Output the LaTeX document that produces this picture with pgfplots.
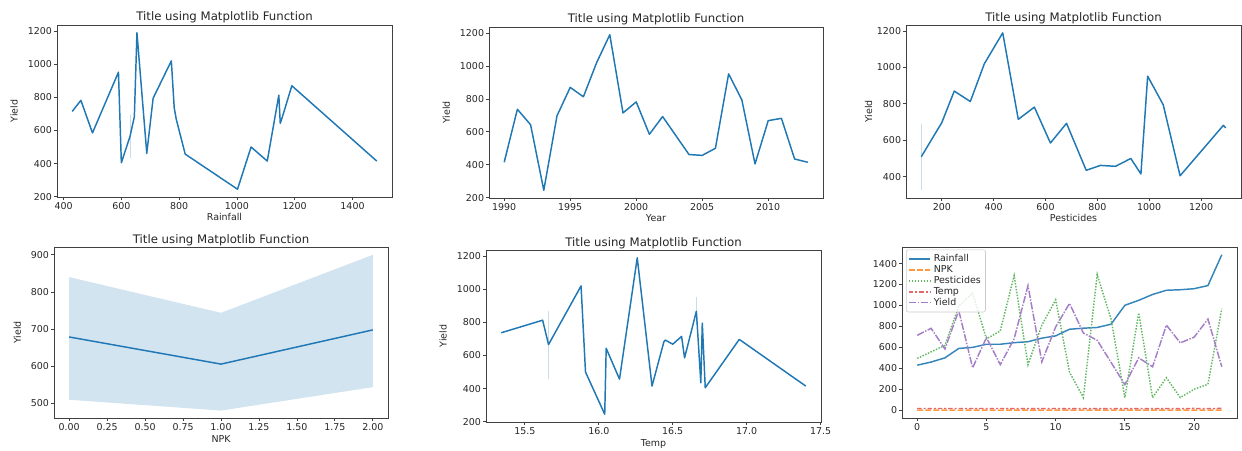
\documentclass[border=0pt]{standalone}
\usepackage{fontspec}
\setmainfont{DejaVu Sans}
\usepackage{pgfplots}
\pgfplotsset{compat=1.18}
\usepackage{pgfplotstable}

\definecolor{c0}{HTML}{1F77B4}
\definecolor{c1}{HTML}{FF7F0E}
\definecolor{c2}{HTML}{2CA02C}
\definecolor{c3}{HTML}{D62728}
\definecolor{c4}{HTML}{9467BD}
\definecolor{txt}{HTML}{262626}
\definecolor{spine}{HTML}{404040}

\pgfplotstableread{
Rainfall Yield
430 715
460 782
500 585
590 952
600 405
630 564
645 682
654 1190
688 462
710 795
773 1020
783 737
790 668
821 457
1002 245
1049 500
1105 415
1145 813
1150 643
1160 697
1190 870
1484 415
}\rainfalltab

\pgfplotstableread{
Year Yield
1990 415
1991 737
1992 643
1993 245
1994 697
1995 870
1996 813
1997 1020
1998 1190
1999 715
2000 782
2001 585
2002 693
2004 462
2005 457
2006 500
2007 952
2008 795
2009 405
2010 668
2011 682
2012 435
2013 415
}\yeartab

\pgfplotstableread{
Pesticides Yield
121 510
200 697
248 870
310 813
364 1020
435 1190
495 715
557 782
619 585
681 693
757 435
812 462
870 457
929 500
968 415
994 952
1054 795
1119 405
1286 682
1295 668
}\pesttab

\pgfplotstableread{
Temp Yield
15.34 737
15.62 813
15.66 666
15.88 1020
15.91 500
16.04 245
16.05 643
16.14 457
16.26 1190
16.36 415
16.44 682
16.45 693
16.50 668
16.56 715
16.58 585
16.66 867
16.69 435
16.70 795
16.72 405
16.95 697
17.40 415
}\temptab

\pgfplotstableread{
idx Rainfall NPK Pesticides Temp Yield
0 430 0 495 16.56 715
1 460 1 557 16.66 782
2 500 2 619 16.58 585
3 590 0 994 16.66 952
4 600 1 1119 16.72 405
5 630 2 681 16.45 693
6 630 0 757 16.69 435
7 645 1 1286 16.44 682
8 654 2 435 16.26 1190
9 688 0 812 15.66 462
10 710 1 1054 16.70 795
11 773 2 364 15.88 1020
12 783 0 121 15.34 737
13 790 1 1295 16.50 668
14 821 2 870 16.14 457
15 1002 0 121 16.04 245
16 1049 1 929 15.91 500
17 1105 2 121 16.36 415
18 1145 0 310 15.62 813
19 1150 1 121 16.05 643
20 1160 2 200 16.95 697
21 1190 0 248 15.66 870
22 1484 1 968 17.40 415
}\croptab

\newcommand{\lblfont}{\fontsize{7.1}{8.5}\selectfont}
\pgfplotsset{
  mpl/.style={
    scale only axis,
    anchor=south west,
    tick align=outside,
    tick pos=left,
    major tick length=2.2pt,
    every tick/.style={spine, line width=0.6pt},
    axis line style={spine, line width=0.6pt},
    tick label style={font=\lblfont, text=txt},
    xticklabel style={yshift=1.6pt},
    yticklabel style={xshift=2pt},
    every axis title/.style={at={(0.5,1)}, anchor=base, yshift=3pt, font=\fontsize{8.8}{10}\selectfont, text=txt},
    every axis x label/.style={at={(axis description cs:0.5,0)}, anchor=base, yshift=-18pt, font=\lblfont, text=txt},
    every axis y label/.style={at={(axis description cs:-0.128,0.5)}, rotate=90, anchor=center, font=\lblfont, text=txt},
    /pgf/number format/1000 sep={},
    /pgf/number format/assume math mode=true,
    scaled ticks=false,
  },
  mline/.style={c0, line width=1.1pt, line join=round},
  ciline/.style={c0!25, line width=0.6pt},
}

\begin{document}
\begin{tikzpicture}
\useasboundingbox (0,0) rectangle (931.5pt,337.5pt);

% Panel 1
\begin{axis}[mpl, at={(42.75pt,189.75pt)}, width=251.25pt, height=129pt,
  title={Title using Matplotlib Function}, xlabel={Rainfall}, ylabel={Yield},
  xmin=377.3, xmax=1536.7, ymin=198, ymax=1237,
  xtick={400,600,...,1400}, ytick={200,400,...,1200}]
\addplot[ciline] coordinates {(630,435) (630,693)};
\addplot[mline] table[x=Rainfall,y=Yield] {\rainfalltab};
\end{axis}

% Panel 2
\begin{axis}[mpl, at={(366.75pt,189pt)}, width=250.5pt, height=128.25pt,
  title={Title using Matplotlib Function}, xlabel={Year}, ylabel={Yield},
  xmin=1988.85, xmax=2014.15, ymin=198, ymax=1237,
  xtick={1990,1995,...,2010}, ytick={200,400,...,1200}]
\addplot[mline] table[x=Year,y=Yield] {\yeartab};
\end{axis}

% Panel 3
\begin{axis}[mpl, at={(679.5pt,189pt)}, width=251.25pt, height=129.75pt,
  title={Title using Matplotlib Function}, xlabel={Pesticides}, ylabel={Yield},
  every axis y label/.append style={at={(axis description cs:-0.112,0.5)}},
  xmin=62, xmax=1354, ymin=283, ymax=1233,
  xtick={200,400,...,1200}, ytick={400,600,...,1200}]
\addplot[ciline] coordinates {(121,326) (121,690)};
\addplot[mline] table[x=Pesticides,y=Yield] {\pesttab};
\end{axis}

% Panel 4
\begin{axis}[mpl, at={(40.5pt,24pt)}, width=250.5pt, height=128.25pt,
  title={Title using Matplotlib Function}, xlabel={NPK}, ylabel={Yield},
  every axis y label/.append style={at={(axis description cs:-0.11,0.5)}},
  xmin=-0.1, xmax=2.1, ymin=461, ymax=921,
  xtick={0,0.25,...,2}, ytick={500,600,...,900},
  xticklabel style={/pgf/number format/.cd, fixed, fixed zerofill, precision=2}]
\addplot[fill=c0, fill opacity=0.2, draw=none] coordinates {(0,510) (1,481) (2,544) (2,900) (1,744) (0,840)} -- cycle;
\addplot[mline] coordinates {(0,679) (1,606) (2,698)};
\end{axis}

% Panel 5
\begin{axis}[mpl, at={(364.5pt,21pt)}, width=251.25pt, height=129pt,
  title={Title using Matplotlib Function}, xlabel={Temp}, ylabel={Yield},
  xmin=15.237, xmax=17.503, ymin=198, ymax=1237,
  xtick={15.5,16,16.5,17,17.5}, ytick={200,400,...,1200},
  xticklabel style={/pgf/number format/.cd, fixed, fixed zerofill, precision=1}]
\addplot[ciline] coordinates {(15.66,455) (15.66,870)};
\addplot[ciline] coordinates {(16.66,790) (16.66,952)};
\addplot[mline] table[x=Temp,y=Yield] {\temptab};
\end{axis}

% Panel 6
\begin{axis}[mpl, at={(676.5pt,24pt)}, width=251.25pt, height=128.25pt,
  xmin=-1.1, xmax=23.1, ymin=-74, ymax=1558,
  xtick={0,5,...,20}, ytick={0,200,...,1400},
  legend style={at={(axis description cs:0.012,0.985)}, anchor=north west,
    draw=black!20, rounded corners=1.5pt, fill=white, fill opacity=0.8, text opacity=1,
    font=\lblfont, text=txt, inner sep=1.5pt, row sep=-2.6pt},
  legend cell align=left,
  legend image code/.code={\draw[#1] (0pt,0pt) -- (16pt,0pt);}]
\addplot[c0!90, line width=1.1pt] table[x=idx,y=Rainfall] {\croptab};
\addlegendentry{Rainfall}
\addplot[c1!80, line width=1.1pt, dash pattern=on 4.4pt off 1.65pt] table[x=idx,y=NPK] {\croptab};
\addlegendentry{NPK}
\addplot[c2!75, line width=1.1pt, dash pattern=on 1.1pt off 1.1pt] table[x=idx,y=Pesticides] {\croptab};
\addlegendentry{Pesticides}
\addplot[c3!70, line width=1.1pt, dash pattern=on 3.3pt off 1.4pt on 1.65pt off 1.4pt] table[x=idx,y=Temp] {\croptab};
\addlegendentry{Temp}
\addplot[c4!85, line width=1.1pt, dash pattern=on 5.5pt off 1.1pt on 1.1pt off 1.1pt] table[x=idx,y=Yield] {\croptab};
\addlegendentry{Yield}
\end{axis}
\end{tikzpicture}
\end{document}
